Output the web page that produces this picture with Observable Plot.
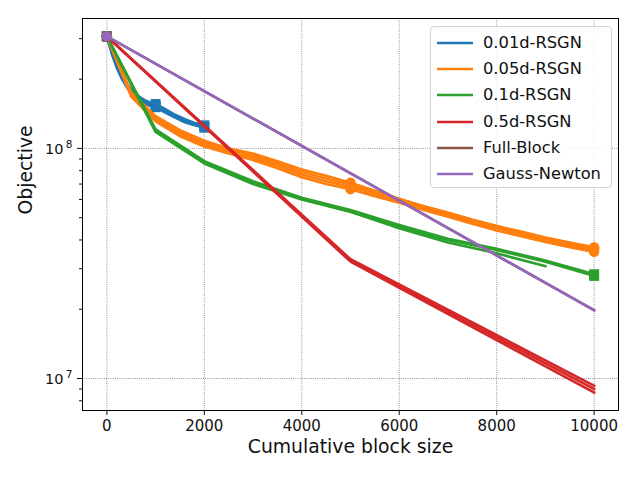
<!DOCTYPE html>
<html>
<head>
<meta charset="utf-8">
<script src="https://cdn.jsdelivr.net/npm/d3@7"></script>
<script src="https://cdn.jsdelivr.net/npm/@observablehq/plot@0.6"></script>
<style>
  html, body { margin: 0; padding: 0; background: white; }
  #wrap { position: relative; width: 640px; height: 480px; font-family: "DejaVu Sans", sans-serif; }
  #legend { position: absolute; left: 430px; top: 26px; width: 182px; height: 162px;
    border: 1px solid #d4d4d4; border-radius: 4px; background: rgba(255,255,255,0.85); box-sizing: border-box; }
  .row { position: absolute; left: 0; height: 20px; }
  .row svg { position: absolute; left: 5px; top: 0; }
  .row span { position: absolute; left: 52px; top: 0; font-size: 16.3px; white-space: nowrap; color: #111; line-height: 20px; }
</style>
</head>
<body>
<div id="wrap"><div id="legend"></div></div>
<script>
// ---- data ----
const methods = ["0.01d-RSGN", "0.05d-RSGN", "0.1d-RSGN", "0.5d-RSGN", "Full-Block", "Gauss-Newton"];
const colors  = ["#1f77b4", "#ff7f0e", "#2ca02c", "#d62728", "#8c564b", "#9467bd"];
const symbols = ["square", "circle", "square", "circle", "square", "circle"];

const xTicks = [0, 2000, 4000, 6000, 8000, 10000];
const yMajor = [1e7, 1e8];
const yMinor = [8e6, 9e6, 2e7, 3e7, 4e7, 5e7, 6e7, 7e7, 8e7, 9e7, 2e8, 3e8];
const yTickBase = ["10", "10"];
const yTickExp = ["7", "8"];

// 0.01d-RSGN
const blueX = [0, 100, 200, 300, 400, 500, 600, 700, 800, 900, 1000, 1200, 1400, 1600, 1800, 2000];
const blueRuns = [
  [3.07e8, 2.62e8, 2.30e8, 2.07e8, 1.90e8, 1.76e8, 1.69e8, 1.63e8, 1.58e8, 1.55e8, 1.53e8, 1.45e8, 1.38e8, 1.32e8, 1.28e8, 1.25e8],
  [3.07e8, 2.66e8, 2.36e8, 2.12e8, 1.94e8, 1.80e8, 1.72e8, 1.66e8, 1.61e8, 1.58e8, 1.56e8, 1.48e8, 1.40e8, 1.34e8, 1.29e8, 1.26e8],
  [3.07e8, 2.58e8, 2.25e8, 2.02e8, 1.86e8, 1.73e8, 1.66e8, 1.60e8, 1.56e8, 1.53e8, 1.51e8, 1.43e8, 1.36e8, 1.30e8, 1.26e8, 1.23e8]
];
const blueMarks = [0, 1000, 2000];

// 0.05d-RSGN
const orangeX = [0, 500, 1000, 1500, 2000, 2500, 3000, 3500, 4000, 4500, 5000, 5500, 6000, 6500, 7000, 7500, 8000, 8500, 9000, 9500, 10000];
const orangeRuns = [
  [3.07e8, 1.70e8, 1.33e8, 1.15e8, 1.04e8, 9.7e7, 9.1e7, 8.4e7, 7.7e7, 7.2e7, 6.8e7, 6.35e7, 5.9e7, 5.5e7, 5.15e7, 4.8e7, 4.5e7, 4.25e7, 4.0e7, 3.8e7, 3.62e7],
  [3.07e8, 1.75e8, 1.38e8, 1.20e8, 1.08e8, 1.00e8, 9.5e7, 8.8e7, 8.1e7, 7.6e7, 7.1e7, 6.55e7, 6.05e7, 5.6e7, 5.25e7, 4.9e7, 4.6e7, 4.35e7, 4.1e7, 3.9e7, 3.72e7],
  [3.07e8, 1.68e8, 1.31e8, 1.13e8, 1.02e8, 9.5e7, 8.9e7, 8.2e7, 7.5e7, 7.0e7, 6.65e7, 6.2e7, 5.8e7, 5.4e7, 5.05e7, 4.7e7, 4.4e7, 4.15e7, 3.92e7, 3.72e7, 3.55e7],
  [3.07e8, 1.72e8, 1.35e8, 1.17e8, 1.06e8, 9.9e7, 9.3e7, 8.6e7, 7.9e7, 7.4e7, 6.95e7, 6.45e7, 6.0e7, 5.6e7, 5.25e7, 4.9e7, 4.6e7, 4.3e7, 4.05e7, 3.85e7, 3.68e7]
];
const orangeMarks = [0, 5000, 10000];

// 0.1d-RSGN
const greenX = [0, 1000, 2000, 3000, 4000, 5000, 6000, 7000, 8000, 9000, 10000];
const greenRuns = [
  [3.07e8, 1.21e8, 8.8e7, 7.2e7, 6.1e7, 5.4e7, 4.65e7, 4.05e7, 3.66e7, 3.26e7, 2.84e7],
  [3.07e8, 1.18e8, 8.6e7, 7.0e7, 6.0e7, 5.3e7, 4.55e7, 4.0e7, 3.62e7, 3.22e7, 2.79e7],
  [3.07e8, 1.19e8, 8.7e7, 7.1e7, 6.05e7, 5.3e7, 4.5e7, 3.9e7, 3.5e7, 3.08e7]
];
const greenMarks = [0, 10000];

// 0.5d-RSGN
const redX = [0, 5000, 10000];
const redRuns = [
  [3.07e8, 3.30e7, 9.3e6],
  [3.07e8, 3.26e7, 9.0e6],
  [3.07e8, 3.22e7, 8.7e6]
];
const redMarks = [0];

// Full-Block
const fullX = [0, 10000];
const fullRuns = [[3.07e8, 1.98e7]];
const fullMarks = [0];

// Gauss-Newton
const gnX = [0, 10000];
const gnRuns = [[3.07e8, 1.98e7]];
const gnMarks = [0];

const series = [
  {x: blueX, runs: blueRuns, marks: blueMarks},
  {x: orangeX, runs: orangeRuns, marks: orangeMarks},
  {x: greenX, runs: greenRuns, marks: greenMarks},
  {x: redX, runs: redRuns, marks: redMarks},
  {x: fullX, runs: fullRuns, marks: fullMarks},
  {x: gnX, runs: gnRuns, marks: gnMarks}
];

// ---- marks ----
const marks = [
  Plot.gridX(xTicks, {stroke: "#222", strokeOpacity: 0.75, strokeWidth: 0.8, strokeDasharray: "0.8,1.4"}),
  Plot.gridY(yMajor, {stroke: "#222", strokeOpacity: 0.75, strokeWidth: 0.8, strokeDasharray: "0.8,1.4"})
];

series.forEach((s, i) => {
  const rows = [];
  s.runs.forEach((run, r) => run.forEach((v, k) => rows.push({method: methods[i], run: r, x: s.x[k], y: v})));
  const markRows = rows.filter(d => s.marks.includes(d.x));
  marks.push(Plot.line(rows, {x: "x", y: "y", z: "run", stroke: colors[i], strokeWidth: 2.6,
    strokeLinejoin: "round", strokeLinecap: "square"}));
  marks.push(Plot.dot(markRows, {x: "x", y: "y", symbol: () => symbols[i], fill: colors[i], stroke: "none",
    r: symbols[i] === "square" ? 5.6 : 5.2}));
});

// y tick labels: base "10" plus raised exponent, as separate text marks
const yLabelRows = yMajor.map((v, k) => ({y: v, base: yTickBase[k], exp: yTickExp[k]}));

marks.push(
  Plot.frame({stroke: "black", strokeWidth: 1}),
  Plot.axisX({ticks: xTicks, tickSize: 5, tickPadding: 5, label: null, tickFormat: d => String(d), fontSize: 15}),
  Plot.axisY({ticks: yMajor, tickSize: 5, label: null, tickFormat: () => ""}),
  Plot.axisY({ticks: yMinor, tickSize: 3, label: null, tickFormat: () => ""}),
  Plot.text(yLabelRows, {y: "y", text: "base", frameAnchor: "left", dx: -19, dy: 0.5, textAnchor: "end",
    lineAnchor: "middle", fontSize: 14.5, fill: "#111"}),
  Plot.text(yLabelRows, {y: "y", text: "exp", frameAnchor: "left", dx: -10, dy: -4, textAnchor: "end",
    lineAnchor: "middle", fontSize: 10.5, fill: "#111"}),
  Plot.text(["Cumulative block size"], {frameAnchor: "bottom", dy: 42, fontSize: 18.8, fill: "#111"}),
  Plot.text(["Objective"], {frameAnchor: "left", dx: -57, rotate: -90, fontSize: 18.8, fill: "#111"})
);

const chart = Plot.plot({
  width: 640,
  height: 480,
  marginLeft: 82,
  marginRight: 22,
  marginTop: 18,
  marginBottom: 70,
  style: {fontFamily: "DejaVu Sans", fontSize: "15px", color: "#111", background: "white"},
  x: {domain: [-500, 10500]},
  y: {type: "log", domain: [7.26e6, 3.67e8]},
  marks
});
document.getElementById("wrap").prepend(chart);

// ---- legend ----
const legend = document.getElementById("legend");
methods.forEach((m, i) => {
  const row = document.createElement("div");
  row.className = "row";
  row.style.top = (6 + i * 26.2) + "px";
  row.innerHTML = `<svg width="38" height="20"><line x1="1" x2="37" y1="10" y2="10" stroke="${colors[i]}" stroke-width="2.6"/></svg><span>${m}</span>`;
  legend.appendChild(row);
});
</script>
</body>
</html>
